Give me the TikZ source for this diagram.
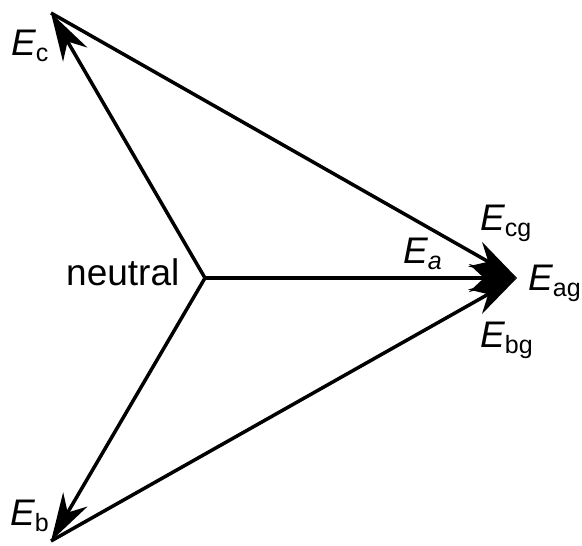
\documentclass[tikz,border=0pt]{standalone}
\usepackage{fontspec}
\setmainfont{Liberation Sans}
\usetikzlibrary{arrows.meta}
\newcommand{\mysub}[1]{\raisebox{-6pt}{\fontsize{25}{27}\selectfont #1}}
\newcommand{\ElabE}[1]{{\itshape E}\mysub{#1}}
\begin{document}
\begin{tikzpicture}[x=1pt,y=-1pt,
  vec/.style={line width=3.5pt,-{Stealth[length=48pt,width=28pt,inset=15pt]}},
  lab/.style={inner sep=0pt,anchor=base west,font=\fontsize{37}{42}\selectfont}]
\useasboundingbox (0,0) rectangle (582,546);
\coordinate (N) at (205,278);
\coordinate (A) at (517,278);
\coordinate (C) at (51,13);
\coordinate (B) at (51,541);
\draw[vec] (N) -- (C);
\draw[vec] (N) -- (B);
\draw[vec] (N) -- (A);
\draw[vec] (C) -- (A);
\draw[vec] (B) -- (A);
\node[lab] (lc) at (11,55) {\ElabE{c}};
\node[lab] (lb) at (10,525) {\ElabE{b}};
\node[lab] (ln) at (66,285) {neutral};
\node[lab] (la) at (403,263) {{\itshape E}\mysub{\itshape a}};
\node[lab] (lcg) at (480,230) {\ElabE{cg}};
\node[lab] (lag) at (528,290) {\ElabE{ag}};
\node[lab] (lbg) at (480,347) {\ElabE{bg}};
\end{tikzpicture}
\end{document}
